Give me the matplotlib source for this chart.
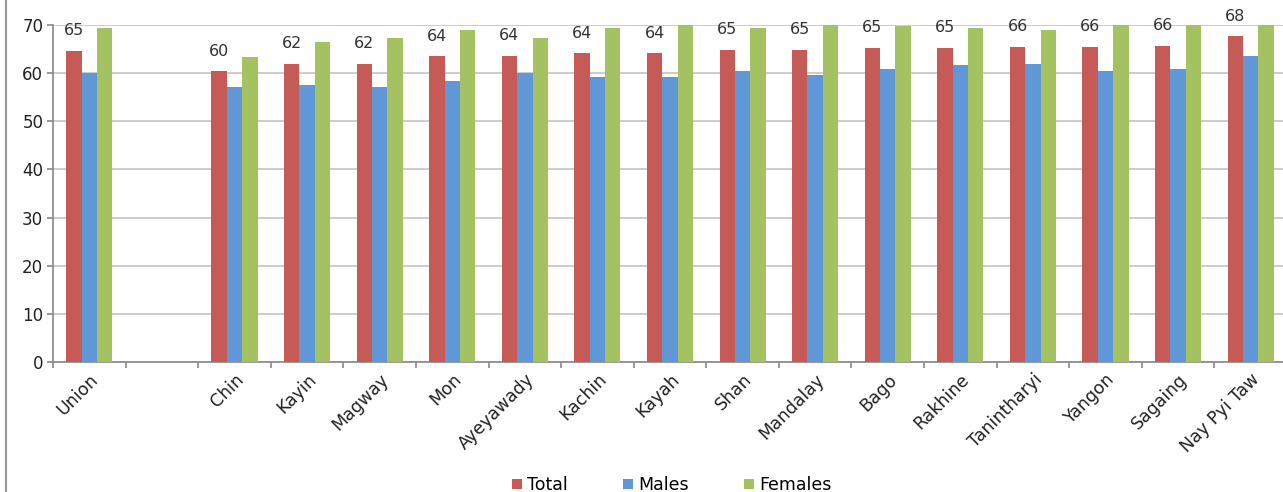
import numpy as np
import matplotlib
matplotlib.use("Agg")
import matplotlib.pyplot as plt
from matplotlib.patches import Patch
from matplotlib.lines import Line2D

# life expectancy by state/region (blank slot separates Union from the rest)
regions = ["Union", "", "Chin", "Kayin", "Magway", "Mon", "Ayeyawady", "Kachin",
           "Kayah", "Shan", "Mandalay", "Bago", "Rakhine", "Tanintharyi",
           "Yangon", "Sagaing", "Nay Pyi Taw"]
total = [64.6, None, 60.4, 62.0, 62.0, 63.5, 63.6, 64.1,
         64.1, 64.9, 64.9, 65.3, 65.3, 65.5, 65.5, 65.7, 67.7]
males = [60.0, None, 57.1, 57.5, 57.1, 58.4, 60.0, 59.1,
         59.1, 60.4, 59.6, 60.8, 61.6, 62.0, 60.4, 60.8, 63.6]
females = [69.3, None, 63.3, 66.5, 67.3, 69.0, 67.3, 69.3,
           70.5, 69.3, 70.3, 69.8, 69.3, 69.0, 70.6, 70.4, 71.2]

series = [("Total", total, "#C55A57"),
          ("Males", males, "#6097D7"),
          ("Females", females, "#A4C262")]

plt.rcParams['font.family'] = ['DejaVu Sans']

W, H = 1283, 492
fig = plt.figure(figsize=(W / 100, H / 100), dpi=100)
ax = fig.add_axes([53 / W, 1 - 362 / H, (1287 - 53) / W, (362 - 25) / H])

x = np.arange(len(regions)) + 0.5
bw = 0.212
for k, (name, vals, col) in enumerate(series):
    v = np.array([np.nan if a is None else a for a in vals], dtype=float)
    ax.bar(x + (k - 1) * bw, v, width=bw, color=col, edgecolor='none', zorder=3)

# rounded total printed over each red bar
for xi, t in zip(x, total):
    if t is None:
        continue
    ax.annotate(str(int(t + 0.5)), (xi - bw, t), xytext=(0, 14.4),
                textcoords='offset points', ha='center', va='center',
                fontsize=11.5, color='#333333', annotation_clip=False)

ax.set_xlim(0, len(regions))
ax.set_ylim(0, 70)
ax.set_yticks(range(0, 71, 10))
ax.yaxis.grid(True, color='#C4C4C4', lw=1.2, zorder=0)
ax.set_axisbelow(True)

ax.set_xticks(x)
ax.set_xticklabels(regions, rotation=45, ha='right', rotation_mode='anchor',
                   fontsize=12.5, color='#222222')
ax.set_xticks(np.arange(len(regions) + 1), minor=True)
ax.tick_params(axis='x', which='major', length=0, pad=6)
ax.tick_params(axis='x', which='minor', length=4, width=1.2, color='#888888')
ax.tick_params(axis='y', length=4, width=1.2, color='#888888',
               labelsize=12, labelcolor='#222222', pad=3)

for s in ['top', 'right']:
    ax.spines[s].set_visible(False)
for s in ['left', 'bottom']:
    ax.spines[s].set_color('#888888')
    ax.spines[s].set_linewidth(1.2)

# outer border of the chart area
fig.add_artist(Line2D([6 / W, 6 / W], [0, 1], transform=fig.transFigure,
                      color='#999999', lw=1.5))

handles = [Patch(facecolor=c, edgecolor='none', label=n) for n, _, c in series]
fig.legend(handles=handles, loc='center', bbox_to_anchor=(672 / W, 1 - 485 / H),
           ncol=3, frameon=False, fontsize=12.5, handlelength=0.55,
           handleheight=0.55, handletextpad=0.3, columnspacing=3.2)

fig.savefig("out.png", dpi=100)
